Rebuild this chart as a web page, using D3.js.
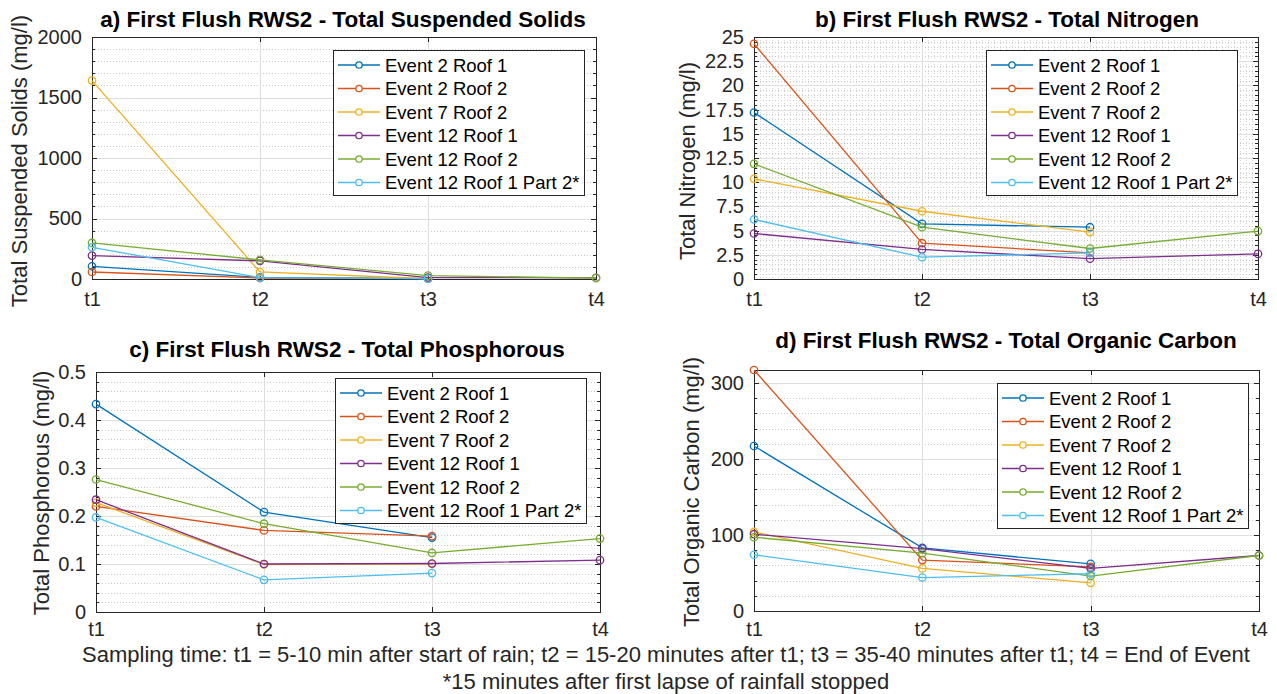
<!DOCTYPE html>
<html>
<head>
<meta charset="utf-8">
<script src="https://cdn.jsdelivr.net/npm/d3@7"></script>
<style>
    body { margin: 0; background: #fff; }
    svg { font-family: "Liberation Sans", Arial, Helvetica, sans-serif; }
    .axis path, .axis line { stroke: #262626; shape-rendering: crispEdges; }
    .axis text { fill: #262626; font-size: 20px; }
    .grid-major { stroke: #dedede; stroke-width: 1; shape-rendering: crispEdges; }
    .grid-minor { stroke: #c8c8c8; stroke-width: 1; stroke-dasharray: 1,2; shape-rendering: crispEdges; }
    .grid-minor-x { stroke: #d6d6d6; stroke-width: 1; stroke-dasharray: 1,2; shape-rendering: crispEdges; }
</style>
</head>
<body>
<div id="chart"></div>
<script>

// sampling times (x categories)
var times = ["t1", "t2", "t3", "t4"];

var seriesNames = ["Event 2 Roof 1", "Event 2 Roof 2", "Event 7 Roof 2",
    "Event 12 Roof 1", "Event 12 Roof 2", "Event 12 Roof 1 Part 2*"];
var seriesColors = ["#0072BD", "#D95319", "#EDB120", "#7E2F8E", "#77AC30", "#4DBEEE"];

// a) total suspended solids (mg/l), one row per series, null = not sampled
var tssValues = [
    [105, 14, 3, null],
    [58, 8, 3, null],
    [1640, 58, 2, null],
    [193, 150, 12, 10],
    [298, 158, 28, 8],
    [262, 12, 3, null]
];
var tssTicks = [0, 500, 1000, 1500, 2000];

// b) total nitrogen (mg/l)
var tnValues = [
    [17.2, 5.7, 5.35, null],
    [24.3, 3.7, 2.7, null],
    [10.35, 7.0, 4.85, null],
    [4.7, 3.05, 2.1, 2.6],
    [11.9, 5.35, 3.15, 4.95],
    [6.15, 2.25, 2.7, null]
];
var tnTicks = [0, 2.5, 5, 7.5, 10, 12.5, 15, 17.5, 20, 22.5, 25];

// c) total phosphorous (mg/l)
var tpValues = [
    [0.433, 0.208, 0.155, null],
    [0.220, 0.170, 0.158, null],
    [0.228, 0.099, 0.100, null],
    [0.234, 0.100, 0.101, 0.108],
    [0.276, 0.184, 0.123, 0.153],
    [0.197, 0.067, 0.081, null]
];
var tpTicks = [0, 0.1, 0.2, 0.3, 0.4, 0.5];

// d) total organic carbon (mg/l)
var tocValues = [
    [217, 83, 62, null],
    [317, 67, 58, null],
    [104, 56, 37, null],
    [101, 82, 56, 73],
    [97, 76, 46, 73],
    [74, 44, 49, null]
];
var tocTicks = [0, 100, 200, 300];

var noteLines = [
    "Sampling time: t1 = 5-10 min after start of rain; t2 = 15-20 minutes after t1; t3 = 35-40 minutes after t1; t4 = End of Event",
    "*15 minutes after first lapse of rainfall stopped"
];

var svg = d3.select("#chart").append("svg")
    .attr("width", 1277)
    .attr("height", 694);

var plainNum = function(d) { return String(+d.toFixed(6)); };

function drawPanel(p) {
    var width = p.right - p.left,
        height = p.bottom - p.top;

    var g = svg.append("g")
        .attr("transform", "translate(" + p.left + "," + p.top + ")");

    var x = d3.scalePoint().domain(times).range([0, width]);
    var xLin = d3.scaleLinear().domain([0, times.length - 1]).range([0, width]);
    var y = d3.scaleLinear().domain([0, p.ymax]).range([height, 0]);

    var minorY = d3.range(0, p.ymax + 1e-9, p.minorStep).filter(function(v) {
        return p.ticks.every(function(t) { return Math.abs(t - v) > 1e-9; });
    });

    // minor grid (dotted)
    g.selectAll(".my").data(minorY).enter().append("line")
        .attr("class", "grid-minor")
        .attr("x1", 0).attr("x2", width)
        .attr("y1", function(d) { return Math.round(y(d)) + 0.5; })
        .attr("y2", function(d) { return Math.round(y(d)) + 0.5; });

    if (p.minorX) {
        var minorX = d3.range(0, times.length - 1 + 1e-9, 1 / p.minorX)
            .filter(function(v) { return Math.abs(v - Math.round(v)) > 1e-6; });
        g.selectAll(".mx").data(minorX).enter().append("line")
            .attr("class", "grid-minor-x")
            .attr("y1", 0).attr("y2", height)
            .attr("x1", function(d) { return Math.round(xLin(d)) + 0.5; })
            .attr("x2", function(d) { return Math.round(xLin(d)) + 0.5; });
    }

    // major grid
    var majorY = p.ticks.filter(function(t) { return t > 0 && t < p.ymax; });
    g.selectAll(".gy").data(majorY).enter().append("line")
        .attr("class", "grid-major")
        .attr("x1", 0).attr("x2", width)
        .attr("y1", function(d) { return Math.round(y(d)) + 0.5; })
        .attr("y2", function(d) { return Math.round(y(d)) + 0.5; });

    g.selectAll(".gx").data(times.slice(1, -1)).enter().append("line")
        .attr("class", "grid-major")
        .attr("y1", 0).attr("y2", height)
        .attr("x1", function(d) { return Math.round(x(d)) + 0.5; })
        .attr("x2", function(d) { return Math.round(x(d)) + 0.5; });

    // axes, ticks pointing inward on all four sides
    g.append("g").attr("class", "axis")
        .call(d3.axisLeft(y).tickValues(minorY).tickSize(-3).tickSizeOuter(0).tickFormat(""));
    g.append("g").attr("class", "axis")
        .attr("transform", "translate(" + width + ",0)")
        .call(d3.axisRight(y).tickValues(minorY).tickSize(-3).tickSizeOuter(0).tickFormat(""));

    g.append("g").attr("class", "axis")
        .call(d3.axisLeft(y).tickValues(p.ticks).tickSize(-5).tickSizeOuter(0)
            .tickPadding(10).tickFormat(plainNum));
    g.append("g").attr("class", "axis")
        .attr("transform", "translate(" + width + ",0)")
        .call(d3.axisRight(y).tickValues(p.ticks).tickSize(-5).tickSizeOuter(0).tickFormat(""));

    g.append("g").attr("class", "axis")
        .attr("transform", "translate(0," + height + ")")
        .call(d3.axisBottom(x).tickSize(-5).tickSizeOuter(0).tickPadding(p.xPad));
    g.append("g").attr("class", "axis")
        .call(d3.axisTop(x).tickSize(-5).tickSizeOuter(0).tickFormat(""));

    // series
    var line = d3.line()
        .defined(function(d) { return d != null; })
        .x(function(d, i) { return x(times[i]); })
        .y(function(d) { return y(d); });

    p.values.forEach(function(vals, s) {
        g.append("path")
            .datum(vals)
            .attr("fill", "none")
            .attr("stroke", seriesColors[s])
            .attr("stroke-width", 1.3)
            .attr("d", line);

        g.selectAll(".pt" + s)
            .data(vals.map(function(v, i) { return {v: v, t: times[i]}; })
                .filter(function(d) { return d.v != null; }))
            .enter().append("circle")
            .attr("cx", function(d) { return x(d.t); })
            .attr("cy", function(d) { return y(d.v); })
            .attr("r", 3.7)
            .attr("fill", "none")
            .attr("stroke", seriesColors[s])
            .attr("stroke-width", 1.3);
    });

    // legend
    var lg = svg.append("g")
        .attr("transform", "translate(" + p.legend[0] + "," + p.legend[1] + ")");
    lg.append("rect")
        .attr("x", 0.5).attr("y", 0.5)
        .attr("width", 251).attr("height", 145)
        .attr("fill", "#fff")
        .attr("stroke", "#262626")
        .attr("stroke-width", 1);

    seriesNames.forEach(function(name, i) {
        var cy = 15 + i * 23.5;
        lg.append("line")
            .attr("x1", 5).attr("x2", 47)
            .attr("y1", cy).attr("y2", cy)
            .attr("stroke", seriesColors[i])
            .attr("stroke-width", 1.3);
        lg.append("circle")
            .attr("cx", 26).attr("cy", cy).attr("r", 3.2)
            .attr("fill", "#fff")
            .attr("stroke", seriesColors[i])
            .attr("stroke-width", 1.3);
        lg.append("text")
            .attr("x", 52).attr("y", cy + 6.5)
            .attr("font-size", 18.5)
            .attr("fill", "#000")
            .text(name);
    });

    // title and y label
    svg.append("text")
        .attr("x", p.titlePos[0]).attr("y", p.titlePos[1])
        .attr("text-anchor", "middle")
        .attr("font-size", 22.5)
        .attr("font-weight", "bold")
        .attr("fill", "#000")
        .text(p.title);

    svg.append("text")
        .attr("transform", "translate(" + p.ylabelPos[0] + "," + p.ylabelPos[1] + ") rotate(-90)")
        .attr("text-anchor", "middle")
        .attr("font-size", 22)
        .attr("fill", "#262626")
        .text(p.ylabel);
}

drawPanel({
    left: 92, right: 596, top: 37, bottom: 279,
    ymax: 2000, ticks: tssTicks, minorStep: 100, minorX: 0, xPad: 13,
    values: tssValues,
    legend: [333, 50],
    title: "a) First Flush RWS2 - Total Suspended Solids", titlePos: [343, 27],
    ylabel: "Total Suspended Solids (mg/l)", ylabelPos: [27, 161]
});

drawPanel({
    left: 754, right: 1258, top: 37, bottom: 279,
    ymax: 25, ticks: tnTicks, minorStep: 0.5, minorX: 28, xPad: 13,
    values: tnValues,
    legend: [986, 50],
    title: "b) First Flush RWS2 - Total Nitrogen", titlePos: [1007, 27],
    ylabel: "Total Nitrogen (mg/l)", ylabelPos: [695, 161]
});

drawPanel({
    left: 96, right: 600, top: 372, bottom: 612,
    ymax: 0.5, ticks: tpTicks, minorStep: 0.02, minorX: 0, xPad: 10,
    values: tpValues,
    legend: [335, 378],
    title: "c) First Flush RWS2 - Total Phosphorous", titlePos: [347, 357],
    ylabel: "Total Phosphorous (mg/l)", ylabelPos: [49, 493]
});

drawPanel({
    left: 754, right: 1259, top: 370, bottom: 611,
    ymax: 317, ticks: tocTicks, minorStep: 20, minorX: 0, xPad: 11,
    values: tocValues,
    legend: [997, 383],
    title: "d) First Flush RWS2 - Total Organic Carbon", titlePos: [1006, 348],
    ylabel: "Total Organic Carbon (mg/l)", ylabelPos: [699, 492]
});

// sampling-time note under the panels
svg.selectAll(".note").data(noteLines).enter().append("text")
    .attr("class", "note")
    .attr("x", 666)
    .attr("y", function(d, i) { return 662 + i * 27; })
    .attr("text-anchor", "middle")
    .attr("font-size", 22)
    .attr("fill", "#262626")
    .text(function(d) { return d; });

</script>
</body>
</html>
